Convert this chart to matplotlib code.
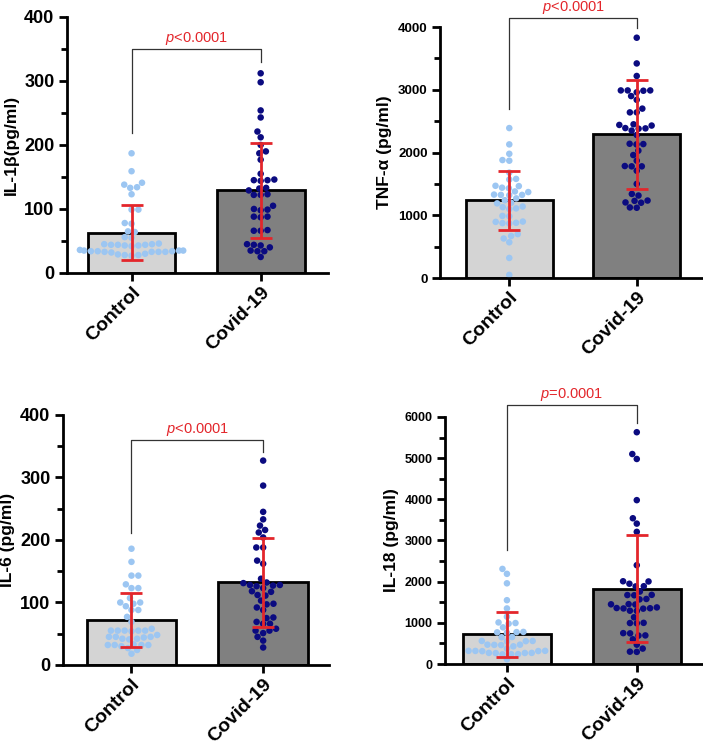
import warnings
import matplotlib
matplotlib.use("Agg")
import matplotlib.pyplot as plt
from matplotlib.ticker import MultipleLocator
import seaborn as sns

warnings.filterwarnings("ignore")

plt.rcParams['font.family'] = ['Liberation Sans', 'DejaVu Sans']
plt.rcParams['mathtext.fontset'] = 'custom'
plt.rcParams['mathtext.it'] = 'Liberation Sans:italic'
plt.rcParams['mathtext.rm'] = 'Liberation Sans'

groups = ["Control", "Covid-19"]

il1b_ctrl = [187, 159, 141, 138, 134, 133, 123, 99, 99, 78, 77, 65, 64, 56, 55, 46, 45, 45, 44, 44, 44,
             43, 43, 42, 36, 35, 35, 35, 34, 34, 34, 33, 33, 33, 33, 32, 30, 29, 28, 28, 27]
il1b_covid = [312, 298, 254, 243, 221, 212, 200, 190, 187, 177, 155, 146, 145, 145, 144, 133, 132, 129,
              123, 122, 122, 105, 100, 99, 98, 88, 88, 87, 67, 66, 66, 45, 44, 43, 40, 35, 34, 34, 25]

tnf_ctrl = [2390, 2130, 1980, 1880, 1870, 1680, 1580, 1570, 1470, 1465, 1440, 1430, 1380, 1370, 1330,
            1325, 1325, 1320, 1270, 1240, 1200, 1190, 1140, 1130, 1110, 1100, 990, 985, 900, 895, 880,
            875, 870, 700, 670, 630, 570, 320, 50]
tnf_covid = [3830, 3420, 3220, 2990, 2990, 2990, 2985, 2960, 2900, 2840, 2700, 2640, 2640, 2450, 2440,
             2430, 2390, 2385, 2380, 2350, 2280, 2140, 2135, 2130, 2030, 1960, 1870, 1785, 1780, 1780,
             1710, 1500, 1340, 1315, 1235, 1230, 1205, 1200, 1125, 1120]

il6_ctrl = [186, 165, 143, 143, 129, 123, 123, 107, 100, 100, 98, 94, 88, 88, 77, 69, 58, 55, 55, 55,
            55, 55, 54, 48, 45, 45, 45, 44, 42, 42, 41, 33, 32, 32, 32, 32, 30, 27, 24, 18]
il6_covid = [327, 287, 245, 233, 223, 216, 212, 204, 188, 188, 167, 162, 138, 132, 131, 128, 128, 127,
             126, 123, 118, 117, 112, 111, 103, 98, 97, 92, 88, 76, 75, 69, 66, 66, 58, 55, 55, 51, 45,
             39, 28]

il18_ctrl = [2310, 2190, 1960, 1550, 1350, 1150, 1010, 995, 980, 890, 780, 775, 770, 760, 655, 650, 560,
             560, 555, 550, 470, 470, 465, 460, 430, 375, 320, 320, 318, 315, 312, 270, 270, 268, 265,
             240, 238, 235, 115]
il18_covid = [5630, 5100, 4980, 3980, 3540, 3410, 3210, 2400, 2010, 2005, 1950, 1890, 1885, 1760, 1680,
              1675, 1670, 1580, 1570, 1455, 1450, 1445, 1375, 1360, 1355, 1350, 1345, 1295, 1290, 1135,
              1000, 995, 990, 750, 745, 695, 690, 600, 470, 375, 300, 295]

# bar heights (mean) and SD
il1b_mean, il1b_sd = [63, 129], [43, 74]
tnf_mean, tnf_sd = [1240, 2290], [470, 870]
il6_mean, il6_sd = [72, 132], [43, 71]
il18_mean, il18_sd = [720, 1830], [540, 1300]

p_labels = ["$p$<0.0001", "$p$<0.0001", "$p$<0.0001", "$p$=0.0001"]
ylabels = ["IL-1β(pg/ml)", "TNF-α (pg/ml)", "IL-6 (pg/ml)", "IL-18 (pg/ml)"]

bar_colors = ["#d4d4d4", "#808080"]
dot_colors = ["#9cc6f2", "#0b0b80"]
red = "#e3262b"

fig = plt.figure(figsize=(7.03, 7.45), dpi=100)

panels = [
    # rect, ctrl, covid, mean, sd, ymax, major, minor, xlim, bracket, ytick size
    ([0.0953, 0.6336, 0.371, 0.3436], il1b_ctrl, il1b_covid, il1b_mean, il1b_sd, 400, 100, 50,
     (-0.5, 1.52), (218, 350, 330), 13),
    ([0.626, 0.6268, 0.374, 0.3369], tnf_ctrl, tnf_covid, tnf_mean, tnf_sd, 4000, 1000, 500,
     (-0.543, 1.52), (2700, 4140, 3980), 9.5),
    ([0.0896, 0.1074, 0.3784, 0.3356], il6_ctrl, il6_covid, il6_mean, il6_sd, 400, 100, 50,
     (-0.52, 1.5), (211, 360, 341), 13),
    ([0.633, 0.1087, 0.367, 0.3316], il18_ctrl, il18_covid, il18_mean, il18_sd, 6000, 1000, 500,
     (-0.477, 1.51), (2760, 6300, 5856), 9),
]

for i, (rect, ctrl, covid, mean, sd, ymax, major, minor, xlim, br, ytsize) in enumerate(panels):
    ax = fig.add_axes(rect)
    ax.bar([0, 1], mean, width=0.68, color=bar_colors, edgecolor="black", linewidth=2, zorder=1)
    xs = [groups[0]] * len(ctrl) + [groups[1]] * len(covid)
    ys = list(ctrl) + list(covid)
    sns.swarmplot(x=xs, y=ys, hue=xs, order=groups, hue_order=groups, palette=dot_colors,
                  size=4.7, legend=False, ax=ax, zorder=2, linewidth=0)
    ax.errorbar([0, 1], mean, yerr=sd, fmt="none", ecolor=red, elinewidth=2, capsize=8,
                capthick=2, zorder=4)

    # significance bracket
    lo, top, hi = br
    ax.plot([0, 0, 1, 1], [lo, top, top, hi], color="#333333", lw=0.9, clip_on=False, zorder=3)
    ax.annotate(p_labels[i], xy=(0.5, top), xytext=(0, 1.5), textcoords="offset points",
                color=red, fontsize=10.5, ha="center", va="bottom", annotation_clip=False)

    ax.set_xlim(*xlim)
    ax.set_ylim(0, ymax)
    ax.yaxis.set_major_locator(MultipleLocator(major))
    ax.yaxis.set_minor_locator(MultipleLocator(minor))
    ax.set_xticks([0, 1])
    ax.set_xticklabels(groups, rotation=45, ha="right", rotation_mode="anchor",
                       fontsize=14, fontweight="bold")
    for lab in ax.get_yticklabels():
        lab.set_fontsize(ytsize)
        lab.set_fontweight("bold")
    ax.set_ylabel(ylabels[i], fontsize=12.5, fontweight="bold", labelpad=4)
    ax.set_xlabel("")
    ax.spines["top"].set_visible(False)
    ax.spines["right"].set_visible(False)
    ax.spines["left"].set_linewidth(2)
    ax.spines["bottom"].set_linewidth(2)
    ax.tick_params(axis="both", which="major", length=6, width=2, direction="out")
    ax.tick_params(axis="y", which="minor", length=4, width=2, direction="out")
    ax.tick_params(axis="y", pad=3)
    ax.tick_params(axis="x", pad=2)
    ax.patch.set_visible(False)

fig.savefig("out.png", dpi=100)
